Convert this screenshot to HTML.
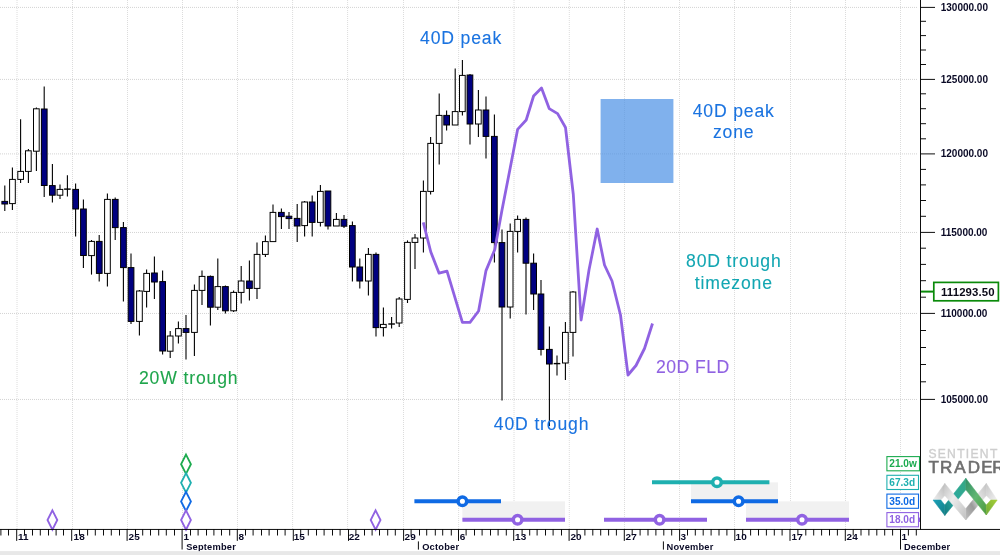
<!DOCTYPE html>
<html lang="en"><head><meta charset="utf-8"><title>Sentient Trader chart</title>
<style>
html,body{margin:0;padding:0;background:#fff;}
body{width:1000px;height:555px;overflow:hidden;position:relative;font-family:"Liberation Sans",sans-serif;}
svg{position:absolute;left:0;top:0;display:block;}
text{font-family:"Liberation Sans",sans-serif;}
.ax{font-weight:bold;font-size:10px;fill:#0a0a26;}
.mo{font-weight:bold;font-size:9.3px;fill:#0a0a26;letter-spacing:0.2px;}
.an{font-size:17.6px;letter-spacing:0.85px;stroke-width:0.1px;}
.cy{font-weight:bold;font-size:10.1px;}
</style></head><body>
<svg width="1000" height="555" viewBox="0 0 1000 555">
<defs>
<linearGradient id="gTealA" x1="0" y1="0" x2="1" y2="1"><stop offset="0" stop-color="#1aa0b8"/><stop offset="1" stop-color="#147f86"/></linearGradient>
<linearGradient id="gTealB" x1="0" y1="1" x2="1" y2="0"><stop offset="0" stop-color="#127a80"/><stop offset="0.45" stop-color="#2aa9a0"/><stop offset="1" stop-color="#36a880"/></linearGradient>
<linearGradient id="gGreen" x1="0" y1="0" x2="1" y2="1"><stop offset="0" stop-color="#2f8f68"/><stop offset="0.5" stop-color="#62b672"/><stop offset="1" stop-color="#4f9a3c"/></linearGradient>
<linearGradient id="gLime" x1="0" y1="1" x2="1" y2="0"><stop offset="0" stop-color="#6faa36"/><stop offset="1" stop-color="#a6cf38"/></linearGradient>
<linearGradient id="gGrayA" x1="0" y1="1" x2="1" y2="0"><stop offset="0" stop-color="#f0f0f0"/><stop offset="1" stop-color="#b9b9b9"/></linearGradient>
<linearGradient id="gGrayB" x1="0" y1="0" x2="1" y2="1"><stop offset="0" stop-color="#c4c4c4"/><stop offset="0.4" stop-color="#ececec"/><stop offset="1" stop-color="#c0c0c0"/></linearGradient>
<linearGradient id="gGrayC" x1="0" y1="1" x2="1" y2="0"><stop offset="0" stop-color="#bdbdbd"/><stop offset="0.35" stop-color="#9a9a9a"/><stop offset="0.6" stop-color="#e6e6e6"/><stop offset="1" stop-color="#c2c2c2"/></linearGradient>
<linearGradient id="gGrayD" x1="0" y1="0" x2="1" y2="1"><stop offset="0" stop-color="#c6c6c6"/><stop offset="1" stop-color="#f2f2f2"/></linearGradient>
</defs>
<rect x="0" y="0" width="1000" height="555" fill="#ffffff"/>
<g stroke="#dcdcdc" stroke-width="1" stroke-dasharray="1 1" fill="none">
<line x1="17.0" y1="0" x2="17.0" y2="529"/>
<line x1="72.5" y1="0" x2="72.5" y2="529"/>
<line x1="127.5" y1="0" x2="127.5" y2="529"/>
<line x1="182.5" y1="0" x2="182.5" y2="529"/>
<line x1="237.5" y1="0" x2="237.5" y2="529"/>
<line x1="292.6" y1="0" x2="292.6" y2="529"/>
<line x1="347.6" y1="0" x2="347.6" y2="529"/>
<line x1="403.5" y1="0" x2="403.5" y2="529"/>
<line x1="458.6" y1="0" x2="458.6" y2="529"/>
<line x1="514.0" y1="0" x2="514.0" y2="529"/>
<line x1="569.3" y1="0" x2="569.3" y2="529"/>
<line x1="624.5" y1="0" x2="624.5" y2="529"/>
<line x1="679.5" y1="0" x2="679.5" y2="529"/>
<line x1="734.5" y1="0" x2="734.5" y2="529"/>
<line x1="790.5" y1="0" x2="790.5" y2="529"/>
<line x1="845.5" y1="0" x2="845.5" y2="529"/>
<line x1="900.5" y1="0" x2="900.5" y2="529"/>
</g>
<g stroke="#d3d3d3" stroke-width="1" stroke-dasharray="1 1" fill="none">
<line x1="0" y1="7.40" x2="918" y2="7.40"/>
<line x1="0" y1="79.40" x2="918" y2="79.40"/>
<line x1="0" y1="153.90" x2="918" y2="153.90"/>
<line x1="0" y1="232.45" x2="918" y2="232.45"/>
<line x1="0" y1="313.45" x2="918" y2="313.45"/>
<line x1="0" y1="399.45" x2="918" y2="399.45"/>
</g>
<g fill="#f1f1f1">
<rect x="462.4" y="501.4" width="102.6" height="18.6"/>
<rect x="691" y="482.4" width="87" height="19"/>
<rect x="746" y="501.4" width="103" height="18.6"/>
</g>
<rect x="600.6" y="99" width="72.8" height="84" fill="#4a90e6" fill-opacity="0.7"/>
<g stroke="#000" stroke-width="1">
<line x1="4.8" y1="185.4" x2="4.8" y2="211.0" stroke-width="1.1"/>
<rect x="1.9" y="201.4" width="5.7" height="2.6" fill="#000080"/>
<line x1="12.4" y1="167.6" x2="12.4" y2="210.0" stroke-width="1.1"/>
<rect x="9.6" y="179.4" width="5.7" height="24.2" fill="#ffffff"/>
<line x1="20.6" y1="119.2" x2="20.6" y2="183.0" stroke-width="1.1"/>
<rect x="17.8" y="171.4" width="5.7" height="8.0" fill="#ffffff"/>
<line x1="28.4" y1="149.0" x2="28.4" y2="183.0" stroke-width="1.1"/>
<rect x="25.5" y="150.8" width="5.7" height="20.6" fill="#ffffff"/>
<line x1="36.4" y1="107.6" x2="36.4" y2="171.0" stroke-width="1.1"/>
<rect x="33.5" y="108.8" width="5.7" height="42.4" fill="#ffffff"/>
<line x1="44.2" y1="86.4" x2="44.2" y2="197.0" stroke-width="1.1"/>
<rect x="41.4" y="109.0" width="5.7" height="76.5" fill="#000080"/>
<line x1="52.4" y1="164.0" x2="52.4" y2="202.6" stroke-width="1.1"/>
<rect x="49.5" y="185.6" width="5.7" height="9.6" fill="#000080"/>
<line x1="60.0" y1="184.4" x2="60.0" y2="199.0" stroke-width="1.1"/>
<rect x="57.1" y="189.4" width="5.7" height="5.8" fill="#ffffff"/>
<line x1="67.4" y1="175.2" x2="67.4" y2="196.4" stroke-width="1.1"/>
<line x1="64.1" y1="189.1" x2="70.7" y2="189.1" stroke-width="1.4"/>
<line x1="75.6" y1="183.4" x2="75.6" y2="236.4" stroke-width="1.1"/>
<rect x="72.8" y="189.4" width="5.7" height="19.6" fill="#000080"/>
<line x1="83.4" y1="199.4" x2="83.4" y2="268.0" stroke-width="1.1"/>
<rect x="80.6" y="209.0" width="5.7" height="46.5" fill="#000080"/>
<line x1="91.5" y1="240.0" x2="91.5" y2="274.6" stroke-width="1.1"/>
<rect x="88.7" y="241.4" width="5.7" height="14.2" fill="#ffffff"/>
<line x1="99.2" y1="235.0" x2="99.2" y2="281.4" stroke-width="1.1"/>
<rect x="96.4" y="241.4" width="5.7" height="32.0" fill="#000080"/>
<line x1="107.4" y1="193.6" x2="107.4" y2="286.6" stroke-width="1.1"/>
<rect x="104.6" y="199.4" width="5.7" height="74.0" fill="#ffffff"/>
<line x1="115.2" y1="197.6" x2="115.2" y2="240.0" stroke-width="1.1"/>
<rect x="112.4" y="199.4" width="5.7" height="28.2" fill="#000080"/>
<line x1="123.4" y1="222.0" x2="123.4" y2="301.6" stroke-width="1.1"/>
<rect x="120.6" y="227.6" width="5.7" height="40.0" fill="#000080"/>
<line x1="131.0" y1="253.6" x2="131.0" y2="324.0" stroke-width="1.1"/>
<rect x="128.2" y="267.6" width="5.7" height="53.8" fill="#000080"/>
<line x1="139.4" y1="290.0" x2="139.4" y2="335.4" stroke-width="1.1"/>
<rect x="136.6" y="291.0" width="5.7" height="30.4" fill="#ffffff"/>
<line x1="146.6" y1="269.4" x2="146.6" y2="307.6" stroke-width="1.1"/>
<rect x="143.8" y="273.4" width="5.7" height="18.0" fill="#ffffff"/>
<line x1="154.4" y1="256.4" x2="154.4" y2="299.0" stroke-width="1.1"/>
<rect x="151.6" y="273.0" width="5.7" height="9.0" fill="#000080"/>
<line x1="162.6" y1="270.4" x2="162.6" y2="354.4" stroke-width="1.1"/>
<rect x="159.8" y="281.6" width="5.7" height="69.4" fill="#000080"/>
<line x1="170.2" y1="331.0" x2="170.2" y2="358.0" stroke-width="1.1"/>
<rect x="167.3" y="336.0" width="5.7" height="15.2" fill="#ffffff"/>
<line x1="178.4" y1="321.4" x2="178.4" y2="343.4" stroke-width="1.1"/>
<rect x="175.6" y="328.6" width="5.7" height="7.4" fill="#ffffff"/>
<line x1="186.0" y1="315.0" x2="186.0" y2="359.6" stroke-width="1.1"/>
<rect x="183.2" y="328.6" width="5.7" height="3.8" fill="#000080"/>
<line x1="194.4" y1="284.4" x2="194.4" y2="356.0" stroke-width="1.1"/>
<rect x="191.6" y="290.4" width="5.7" height="42.0" fill="#ffffff"/>
<line x1="202.0" y1="270.4" x2="202.0" y2="305.0" stroke-width="1.1"/>
<rect x="199.2" y="276.4" width="5.7" height="14.0" fill="#ffffff"/>
<line x1="210.4" y1="275.4" x2="210.4" y2="325.4" stroke-width="1.1"/>
<rect x="207.6" y="276.4" width="5.7" height="30.8" fill="#000080"/>
<line x1="217.8" y1="258.4" x2="217.8" y2="310.0" stroke-width="1.1"/>
<rect x="215.0" y="286.6" width="5.7" height="20.6" fill="#ffffff"/>
<line x1="225.4" y1="285.6" x2="225.4" y2="313.6" stroke-width="1.1"/>
<rect x="222.6" y="286.6" width="5.7" height="24.2" fill="#000080"/>
<line x1="233.6" y1="290.4" x2="233.6" y2="312.0" stroke-width="1.1"/>
<rect x="230.8" y="292.4" width="5.7" height="18.4" fill="#ffffff"/>
<line x1="241.2" y1="266.0" x2="241.2" y2="303.6" stroke-width="1.1"/>
<rect x="238.3" y="281.0" width="5.7" height="11.4" fill="#ffffff"/>
<line x1="249.4" y1="260.4" x2="249.4" y2="300.6" stroke-width="1.1"/>
<rect x="246.6" y="281.0" width="5.7" height="7.4" fill="#000080"/>
<line x1="257.0" y1="242.4" x2="257.0" y2="299.0" stroke-width="1.1"/>
<rect x="254.2" y="254.4" width="5.7" height="34.0" fill="#ffffff"/>
<line x1="265.4" y1="235.6" x2="265.4" y2="257.0" stroke-width="1.1"/>
<rect x="262.5" y="241.6" width="5.7" height="12.8" fill="#ffffff"/>
<line x1="273.0" y1="204.4" x2="273.0" y2="241.6" stroke-width="1.1"/>
<rect x="270.1" y="212.4" width="5.7" height="29.2" fill="#ffffff"/>
<line x1="281.4" y1="208.4" x2="281.4" y2="229.0" stroke-width="1.1"/>
<rect x="278.5" y="212.4" width="5.7" height="4.2" fill="#000080"/>
<line x1="289.0" y1="212.0" x2="289.0" y2="229.0" stroke-width="1.1"/>
<rect x="286.1" y="216.2" width="5.7" height="2.4" fill="#000080"/>
<line x1="297.2" y1="204.0" x2="297.2" y2="242.0" stroke-width="1.1"/>
<rect x="294.3" y="218.4" width="5.7" height="7.6" fill="#000080"/>
<line x1="304.6" y1="201.0" x2="304.6" y2="236.6" stroke-width="1.1"/>
<rect x="301.8" y="202.0" width="5.7" height="23.6" fill="#ffffff"/>
<line x1="312.2" y1="195.6" x2="312.2" y2="236.6" stroke-width="1.1"/>
<rect x="309.3" y="202.0" width="5.7" height="20.4" fill="#000080"/>
<line x1="320.4" y1="185.0" x2="320.4" y2="226.4" stroke-width="1.1"/>
<rect x="317.5" y="191.4" width="5.7" height="31.0" fill="#ffffff"/>
<line x1="328.0" y1="191.0" x2="328.0" y2="229.6" stroke-width="1.1"/>
<rect x="325.1" y="191.0" width="5.7" height="35.0" fill="#000080"/>
<line x1="336.4" y1="213.0" x2="336.4" y2="226.0" stroke-width="1.1"/>
<rect x="333.5" y="219.4" width="5.7" height="6.6" fill="#ffffff"/>
<line x1="344.0" y1="215.0" x2="344.0" y2="228.0" stroke-width="1.1"/>
<rect x="341.1" y="219.4" width="5.7" height="6.8" fill="#000080"/>
<line x1="352.4" y1="221.6" x2="352.4" y2="281.4" stroke-width="1.1"/>
<rect x="349.5" y="225.6" width="5.7" height="41.4" fill="#000080"/>
<line x1="359.8" y1="258.4" x2="359.8" y2="288.6" stroke-width="1.1"/>
<rect x="356.9" y="267.0" width="5.7" height="14.0" fill="#000080"/>
<line x1="368.4" y1="248.0" x2="368.4" y2="295.4" stroke-width="1.1"/>
<rect x="365.5" y="254.4" width="5.7" height="26.6" fill="#ffffff"/>
<line x1="376.0" y1="252.4" x2="376.0" y2="336.4" stroke-width="1.1"/>
<rect x="373.1" y="254.4" width="5.7" height="73.2" fill="#000080"/>
<line x1="383.4" y1="307.6" x2="383.4" y2="336.4" stroke-width="1.1"/>
<rect x="380.5" y="324.4" width="5.7" height="3.2" fill="#ffffff"/>
<line x1="391.6" y1="317.0" x2="391.6" y2="328.6" stroke-width="1.1"/>
<line x1="388.3" y1="324.0" x2="394.9" y2="324.0" stroke-width="1.4"/>
<line x1="399.2" y1="297.0" x2="399.2" y2="327.0" stroke-width="1.1"/>
<rect x="396.3" y="299.0" width="5.7" height="24.0" fill="#ffffff"/>
<line x1="407.5" y1="240.4" x2="407.5" y2="303.0" stroke-width="1.1"/>
<rect x="404.6" y="242.4" width="5.7" height="57.0" fill="#ffffff"/>
<line x1="415.0" y1="234.0" x2="415.0" y2="269.0" stroke-width="1.1"/>
<rect x="412.1" y="238.0" width="5.7" height="4.4" fill="#ffffff"/>
<line x1="423.4" y1="180.6" x2="423.4" y2="252.4" stroke-width="1.1"/>
<rect x="420.5" y="191.4" width="5.7" height="46.6" fill="#ffffff"/>
<line x1="430.6" y1="137.0" x2="430.6" y2="194.4" stroke-width="1.1"/>
<rect x="427.8" y="143.4" width="5.7" height="48.0" fill="#ffffff"/>
<line x1="439.2" y1="93.6" x2="439.2" y2="164.4" stroke-width="1.1"/>
<rect x="436.3" y="115.4" width="5.7" height="28.0" fill="#ffffff"/>
<line x1="446.6" y1="110.4" x2="446.6" y2="130.4" stroke-width="1.1"/>
<rect x="443.8" y="115.4" width="5.7" height="9.6" fill="#000080"/>
<line x1="455.2" y1="68.4" x2="455.2" y2="125.0" stroke-width="1.1"/>
<rect x="452.3" y="111.6" width="5.7" height="13.4" fill="#ffffff"/>
<line x1="462.4" y1="60.0" x2="462.4" y2="115.6" stroke-width="1.1"/>
<rect x="459.5" y="75.4" width="5.7" height="36.2" fill="#ffffff"/>
<line x1="470.0" y1="74.0" x2="470.0" y2="144.4" stroke-width="1.1"/>
<rect x="467.1" y="75.0" width="5.7" height="49.0" fill="#000080"/>
<line x1="478.4" y1="90.0" x2="478.4" y2="137.0" stroke-width="1.1"/>
<rect x="475.5" y="110.0" width="5.7" height="14.0" fill="#ffffff"/>
<line x1="486.0" y1="96.4" x2="486.0" y2="158.4" stroke-width="1.1"/>
<rect x="483.1" y="110.0" width="5.7" height="26.4" fill="#000080"/>
<line x1="494.4" y1="114.4" x2="494.4" y2="262.4" stroke-width="1.1"/>
<rect x="491.5" y="136.4" width="5.7" height="106.2" fill="#000080"/>
<line x1="502.0" y1="229.4" x2="502.0" y2="400.4" stroke-width="1.1"/>
<rect x="499.1" y="242.6" width="5.7" height="64.4" fill="#000080"/>
<line x1="510.2" y1="223.6" x2="510.2" y2="318.4" stroke-width="1.1"/>
<rect x="507.3" y="231.4" width="5.7" height="75.6" fill="#ffffff"/>
<line x1="517.6" y1="215.4" x2="517.6" y2="252.4" stroke-width="1.1"/>
<rect x="514.8" y="219.4" width="5.7" height="12.0" fill="#ffffff"/>
<line x1="526.0" y1="217.4" x2="526.0" y2="314.4" stroke-width="1.1"/>
<rect x="523.1" y="219.4" width="5.7" height="43.8" fill="#000080"/>
<line x1="533.6" y1="253.6" x2="533.6" y2="310.0" stroke-width="1.1"/>
<rect x="530.8" y="263.2" width="5.7" height="30.8" fill="#000080"/>
<line x1="541.0" y1="280.0" x2="541.0" y2="355.6" stroke-width="1.1"/>
<rect x="538.1" y="294.0" width="5.7" height="55.4" fill="#000080"/>
<line x1="549.4" y1="326.4" x2="549.4" y2="426.0" stroke-width="1.1"/>
<rect x="546.5" y="349.4" width="5.7" height="14.6" fill="#000080"/>
<line x1="557.0" y1="355.6" x2="557.0" y2="375.6" stroke-width="1.1"/>
<line x1="553.7" y1="363.6" x2="560.3" y2="363.6" stroke-width="1.4"/>
<line x1="565.4" y1="322.0" x2="565.4" y2="380.0" stroke-width="1.1"/>
<rect x="562.5" y="332.4" width="5.7" height="30.6" fill="#ffffff"/>
<line x1="573.0" y1="291.0" x2="573.0" y2="356.6" stroke-width="1.1"/>
<rect x="570.1" y="292.0" width="5.7" height="40.4" fill="#ffffff"/>
</g>
<polyline points="423.3,222.3 430.8,252.0 439.1,273.2 447.0,271.2 455.2,298.3 462.4,322.3 470.0,322.3 478.6,311.0 486.0,270.6 494.8,249.5 502.0,210.0 510.2,168.0 517.6,129.4 526.2,120.0 533.6,96.0 541.5,88.0 549.2,108.6 557.6,113.6 565.5,127.5 573.3,194.5 581.1,320.0 589.0,270.0 597.2,229.0 604.5,265.0 612.0,281.0 620.5,315.0 628.0,375.0 636.0,365.5 644.5,348.5 652.5,323.5" fill="none" stroke="#9062e2" stroke-width="2.8" stroke-linejoin="round" stroke-linecap="butt"/>
<g class="an">
<text x="461.1" y="43.6" text-anchor="middle" fill="#1a73e0" stroke="#1a73e0">40D peak</text>
<text x="733.7" y="116.6" text-anchor="middle" fill="#1a73e0" stroke="#1a73e0">40D peak</text>
<text x="733.7" y="137.6" text-anchor="middle" fill="#1a73e0" stroke="#1a73e0">zone</text>
<text x="733.8" y="266.5" text-anchor="middle" fill="#12a6b2" stroke="#12a6b2">80D trough</text>
<text x="733.8" y="289.2" text-anchor="middle" fill="#12a6b2" stroke="#12a6b2">timezone</text>
<text x="692.9" y="372.9" text-anchor="middle" fill="#9062e2" stroke="#9062e2" style="letter-spacing:0.45px">20D FLD</text>
<text x="541.6" y="429.9" text-anchor="middle" fill="#1a73e0" stroke="#1a73e0">40D trough</text>
<text x="188.7" y="384.2" text-anchor="middle" fill="#1fa54c" stroke="#1fa54c">20W trough</text>
</g>
<polygon points="52.4,510.4 57.3,520.0 52.4,529.6 47.5,520.0" fill="#fff" stroke="#9062e2" stroke-width="1.85" stroke-linejoin="miter"/>
<polygon points="186.0,454.6 190.9,464.2 186.0,473.8 181.1,464.2" fill="#fff" stroke="#1cab4f" stroke-width="1.85" stroke-linejoin="miter"/>
<polygon points="186.0,473.2 190.9,482.8 186.0,492.4 181.1,482.8" fill="#fff" stroke="#1fb0b0" stroke-width="1.85" stroke-linejoin="miter"/>
<polygon points="186.0,491.8 190.9,501.4 186.0,511.0 181.1,501.4" fill="#fff" stroke="#0f6ae4" stroke-width="1.85" stroke-linejoin="miter"/>
<polygon points="186.0,510.4 190.9,520.0 186.0,529.6 181.1,520.0" fill="#fff" stroke="#9062e2" stroke-width="1.85" stroke-linejoin="miter"/>
<polygon points="375.6,510.4 380.5,520.0 375.6,529.6 370.7,520.0" fill="#fff" stroke="#9062e2" stroke-width="1.85" stroke-linejoin="miter"/>
<line x1="414.4" y1="501.2" x2="501" y2="501.2" stroke="#0f6ae4" stroke-width="4"/>
<circle cx="462.4" cy="501.2" r="4.3" fill="#fff" stroke="#0f6ae4" stroke-width="3.5"/>
<line x1="462.4" y1="519.8" x2="565" y2="519.8" stroke="#9062e2" stroke-width="4"/>
<circle cx="517.6" cy="519.8" r="4.3" fill="#fff" stroke="#9062e2" stroke-width="3.5"/>
<line x1="604" y1="519.8" x2="707" y2="519.8" stroke="#9062e2" stroke-width="4"/>
<circle cx="659.6" cy="519.8" r="4.3" fill="#fff" stroke="#9062e2" stroke-width="3.5"/>
<line x1="652" y1="482.2" x2="769.4" y2="482.2" stroke="#1fb0b0" stroke-width="4"/>
<circle cx="717" cy="482.2" r="4.3" fill="#fff" stroke="#1fb0b0" stroke-width="3.5"/>
<line x1="691" y1="501.2" x2="778" y2="501.2" stroke="#0f6ae4" stroke-width="4"/>
<circle cx="738.6" cy="501.2" r="4.3" fill="#fff" stroke="#0f6ae4" stroke-width="3.5"/>
<line x1="746" y1="519.8" x2="849" y2="519.8" stroke="#9062e2" stroke-width="4"/>
<circle cx="802" cy="519.8" r="4.3" fill="#fff" stroke="#9062e2" stroke-width="3.5"/>
<rect x="921" y="0" width="79" height="529" fill="#fff"/>
<g stroke="#000" stroke-width="0.95" fill="none">
<line x1="920.5" y1="0" x2="920.5" y2="529.5"/>
<line x1="0" y1="529.45" x2="1000" y2="529.45"/>
<line x1="920.5" y1="399.4" x2="935.0" y2="399.4"/>
<line x1="920.5" y1="381.8" x2="926.0" y2="381.8"/>
<line x1="920.5" y1="364.5" x2="926.0" y2="364.5"/>
<line x1="920.5" y1="347.5" x2="926.0" y2="347.5"/>
<line x1="920.5" y1="330.5" x2="926.0" y2="330.5"/>
<line x1="920.5" y1="313.4" x2="935.0" y2="313.4"/>
<line x1="920.5" y1="297.2" x2="926.0" y2="297.2"/>
<line x1="920.5" y1="280.7" x2="926.0" y2="280.7"/>
<line x1="920.5" y1="264.4" x2="926.0" y2="264.4"/>
<line x1="920.5" y1="248.2" x2="926.0" y2="248.2"/>
<line x1="920.5" y1="232.4" x2="935.0" y2="232.4"/>
<line x1="920.5" y1="216.3" x2="926.0" y2="216.3"/>
<line x1="920.5" y1="200.5" x2="926.0" y2="200.5"/>
<line x1="920.5" y1="184.9" x2="926.0" y2="184.9"/>
<line x1="920.5" y1="169.4" x2="926.0" y2="169.4"/>
<line x1="920.5" y1="153.9" x2="935.0" y2="153.9"/>
<line x1="920.5" y1="138.8" x2="926.0" y2="138.8"/>
<line x1="920.5" y1="123.7" x2="926.0" y2="123.7"/>
<line x1="920.5" y1="108.7" x2="926.0" y2="108.7"/>
<line x1="920.5" y1="93.8" x2="926.0" y2="93.8"/>
<line x1="920.5" y1="79.4" x2="935.0" y2="79.4"/>
<line x1="920.5" y1="64.5" x2="926.0" y2="64.5"/>
<line x1="920.5" y1="50.0" x2="926.0" y2="50.0"/>
<line x1="920.5" y1="35.6" x2="926.0" y2="35.6"/>
<line x1="920.5" y1="21.3" x2="926.0" y2="21.3"/>
<line x1="920.5" y1="7.4" x2="935.0" y2="7.4"/>
<line x1="0.9" y1="529.3" x2="0.9" y2="535.5"/>
<line x1="8.5" y1="529.3" x2="8.5" y2="535.5"/>
<line x1="16.7" y1="529.3" x2="16.7" y2="540.9"/>
<line x1="24.5" y1="529.3" x2="24.5" y2="535.5"/>
<line x1="32.5" y1="529.3" x2="32.5" y2="535.5"/>
<line x1="40.3" y1="529.3" x2="40.3" y2="535.5"/>
<line x1="48.5" y1="529.3" x2="48.5" y2="535.5"/>
<line x1="56.1" y1="529.3" x2="56.1" y2="535.5"/>
<line x1="63.5" y1="529.3" x2="63.5" y2="535.5"/>
<line x1="71.7" y1="529.3" x2="71.7" y2="540.9"/>
<line x1="79.5" y1="529.3" x2="79.5" y2="535.5"/>
<line x1="87.6" y1="529.3" x2="87.6" y2="535.5"/>
<line x1="95.3" y1="529.3" x2="95.3" y2="535.5"/>
<line x1="103.5" y1="529.3" x2="103.5" y2="535.5"/>
<line x1="111.3" y1="529.3" x2="111.3" y2="535.5"/>
<line x1="119.5" y1="529.3" x2="119.5" y2="535.5"/>
<line x1="127.1" y1="529.3" x2="127.1" y2="540.9"/>
<line x1="135.5" y1="529.3" x2="135.5" y2="535.5"/>
<line x1="142.7" y1="529.3" x2="142.7" y2="535.5"/>
<line x1="150.5" y1="529.3" x2="150.5" y2="535.5"/>
<line x1="158.7" y1="529.3" x2="158.7" y2="535.5"/>
<line x1="166.3" y1="529.3" x2="166.3" y2="535.5"/>
<line x1="174.5" y1="529.3" x2="174.5" y2="535.5"/>
<line x1="182.1" y1="529.3" x2="182.1" y2="549.5"/>
<line x1="190.5" y1="529.3" x2="190.5" y2="535.5"/>
<line x1="198.1" y1="529.3" x2="198.1" y2="535.5"/>
<line x1="206.5" y1="529.3" x2="206.5" y2="535.5"/>
<line x1="213.9" y1="529.3" x2="213.9" y2="535.5"/>
<line x1="221.5" y1="529.3" x2="221.5" y2="535.5"/>
<line x1="229.7" y1="529.3" x2="229.7" y2="535.5"/>
<line x1="237.3" y1="529.3" x2="237.3" y2="540.9"/>
<line x1="245.5" y1="529.3" x2="245.5" y2="535.5"/>
<line x1="253.1" y1="529.3" x2="253.1" y2="535.5"/>
<line x1="261.5" y1="529.3" x2="261.5" y2="535.5"/>
<line x1="269.1" y1="529.3" x2="269.1" y2="535.5"/>
<line x1="277.5" y1="529.3" x2="277.5" y2="535.5"/>
<line x1="285.1" y1="529.3" x2="285.1" y2="535.5"/>
<line x1="293.3" y1="529.3" x2="293.3" y2="540.9"/>
<line x1="300.7" y1="529.3" x2="300.7" y2="535.5"/>
<line x1="308.3" y1="529.3" x2="308.3" y2="535.5"/>
<line x1="316.5" y1="529.3" x2="316.5" y2="535.5"/>
<line x1="324.1" y1="529.3" x2="324.1" y2="535.5"/>
<line x1="332.5" y1="529.3" x2="332.5" y2="535.5"/>
<line x1="340.1" y1="529.3" x2="340.1" y2="535.5"/>
<line x1="348.5" y1="529.3" x2="348.5" y2="540.9"/>
<line x1="355.9" y1="529.3" x2="355.9" y2="535.5"/>
<line x1="364.5" y1="529.3" x2="364.5" y2="535.5"/>
<line x1="372.1" y1="529.3" x2="372.1" y2="535.5"/>
<line x1="379.5" y1="529.3" x2="379.5" y2="535.5"/>
<line x1="387.7" y1="529.3" x2="387.7" y2="535.5"/>
<line x1="395.3" y1="529.3" x2="395.3" y2="535.5"/>
<line x1="403.6" y1="529.3" x2="403.6" y2="540.9"/>
<line x1="411.1" y1="529.3" x2="411.1" y2="535.5"/>
<line x1="419.5" y1="529.3" x2="419.5" y2="535.5"/>
<line x1="426.7" y1="529.3" x2="426.7" y2="535.5"/>
<line x1="435.3" y1="529.3" x2="435.3" y2="535.5"/>
<line x1="442.7" y1="529.3" x2="442.7" y2="535.5"/>
<line x1="451.3" y1="529.3" x2="451.3" y2="535.5"/>
<line x1="458.5" y1="529.3" x2="458.5" y2="540.9"/>
<line x1="466.1" y1="529.3" x2="466.1" y2="535.5"/>
<line x1="474.5" y1="529.3" x2="474.5" y2="535.5"/>
<line x1="482.1" y1="529.3" x2="482.1" y2="535.5"/>
<line x1="490.5" y1="529.3" x2="490.5" y2="535.5"/>
<line x1="498.1" y1="529.3" x2="498.1" y2="535.5"/>
<line x1="506.3" y1="529.3" x2="506.3" y2="535.5"/>
<line x1="513.7" y1="529.3" x2="513.7" y2="540.9"/>
<line x1="522.1" y1="529.3" x2="522.1" y2="535.5"/>
<line x1="529.7" y1="529.3" x2="529.7" y2="535.5"/>
<line x1="537.1" y1="529.3" x2="537.1" y2="535.5"/>
<line x1="545.5" y1="529.3" x2="545.5" y2="535.5"/>
<line x1="553.1" y1="529.3" x2="553.1" y2="535.5"/>
<line x1="561.5" y1="529.3" x2="561.5" y2="535.5"/>
<line x1="569.1" y1="529.3" x2="569.1" y2="540.9"/>
<line x1="577.0" y1="529.3" x2="577.0" y2="535.5"/>
<line x1="584.9" y1="529.3" x2="584.9" y2="535.5"/>
<line x1="592.8" y1="529.3" x2="592.8" y2="535.5"/>
<line x1="600.7" y1="529.3" x2="600.7" y2="535.5"/>
<line x1="608.6" y1="529.3" x2="608.6" y2="535.5"/>
<line x1="616.4" y1="529.3" x2="616.4" y2="535.5"/>
<line x1="624.3" y1="529.3" x2="624.3" y2="540.9"/>
<line x1="632.2" y1="529.3" x2="632.2" y2="535.5"/>
<line x1="640.1" y1="529.3" x2="640.1" y2="535.5"/>
<line x1="648.0" y1="529.3" x2="648.0" y2="535.5"/>
<line x1="655.9" y1="529.3" x2="655.9" y2="535.5"/>
<line x1="663.8" y1="529.3" x2="663.8" y2="535.5"/>
<line x1="671.7" y1="529.3" x2="671.7" y2="535.5"/>
<line x1="679.6" y1="529.3" x2="679.6" y2="540.9"/>
<line x1="687.5" y1="529.3" x2="687.5" y2="535.5"/>
<line x1="695.3" y1="529.3" x2="695.3" y2="535.5"/>
<line x1="703.2" y1="529.3" x2="703.2" y2="535.5"/>
<line x1="711.1" y1="529.3" x2="711.1" y2="535.5"/>
<line x1="719.0" y1="529.3" x2="719.0" y2="535.5"/>
<line x1="726.9" y1="529.3" x2="726.9" y2="535.5"/>
<line x1="734.8" y1="529.3" x2="734.8" y2="540.9"/>
<line x1="742.7" y1="529.3" x2="742.7" y2="535.5"/>
<line x1="750.6" y1="529.3" x2="750.6" y2="535.5"/>
<line x1="758.5" y1="529.3" x2="758.5" y2="535.5"/>
<line x1="766.4" y1="529.3" x2="766.4" y2="535.5"/>
<line x1="774.3" y1="529.3" x2="774.3" y2="535.5"/>
<line x1="782.1" y1="529.3" x2="782.1" y2="535.5"/>
<line x1="790.0" y1="529.3" x2="790.0" y2="540.9"/>
<line x1="797.9" y1="529.3" x2="797.9" y2="535.5"/>
<line x1="805.8" y1="529.3" x2="805.8" y2="535.5"/>
<line x1="813.7" y1="529.3" x2="813.7" y2="535.5"/>
<line x1="821.6" y1="529.3" x2="821.6" y2="535.5"/>
<line x1="829.5" y1="529.3" x2="829.5" y2="535.5"/>
<line x1="837.4" y1="529.3" x2="837.4" y2="535.5"/>
<line x1="845.3" y1="529.3" x2="845.3" y2="540.9"/>
<line x1="853.2" y1="529.3" x2="853.2" y2="535.5"/>
<line x1="861.0" y1="529.3" x2="861.0" y2="535.5"/>
<line x1="868.9" y1="529.3" x2="868.9" y2="535.5"/>
<line x1="876.8" y1="529.3" x2="876.8" y2="535.5"/>
<line x1="884.7" y1="529.3" x2="884.7" y2="535.5"/>
<line x1="892.6" y1="529.3" x2="892.6" y2="535.5"/>
<line x1="900.5" y1="529.3" x2="900.5" y2="549.5"/>
<line x1="908.4" y1="529.3" x2="908.4" y2="535.5"/>
<line x1="916.3" y1="529.3" x2="916.3" y2="535.5"/>
<line x1="418.4" y1="541.4" x2="418.4" y2="549.6"/>
<line x1="663.4" y1="541.4" x2="663.4" y2="549.6"/>
</g>
<g class="ax">
<text transform="translate(940.7,10.5)">130000.00</text>
<text transform="translate(940.7,82.5)">125000.00</text>
<text transform="translate(940.7,157.0)">120000.00</text>
<text transform="translate(940.7,235.5)">115000.00</text>
<text transform="translate(940.7,316.6)">110000.00</text>
<text transform="translate(940.7,402.6)">105000.00</text>
</g>
<g class="ax">
<text transform="translate(18.1,540.2) scale(1,0.95)">11</text>
<text transform="translate(73.6,540.2) scale(1,0.95)">18</text>
<text transform="translate(128.6,540.2) scale(1,0.95)">25</text>
<text transform="translate(183.6,540.2) scale(1,0.95)">1</text>
<text transform="translate(238.6,540.2) scale(1,0.95)">8</text>
<text transform="translate(293.7,540.2) scale(1,0.95)">15</text>
<text transform="translate(348.7,540.2) scale(1,0.95)">22</text>
<text transform="translate(404.6,540.2) scale(1,0.95)">29</text>
<text transform="translate(459.7,540.2) scale(1,0.95)">6</text>
<text transform="translate(515.1,540.2) scale(1,0.95)">13</text>
<text transform="translate(570.4,540.2) scale(1,0.95)">20</text>
<text transform="translate(625.6,540.2) scale(1,0.95)">27</text>
<text transform="translate(680.6,540.2) scale(1,0.95)">3</text>
<text transform="translate(735.6,540.2) scale(1,0.95)">10</text>
<text transform="translate(791.6,540.2) scale(1,0.95)">17</text>
<text transform="translate(846.6,540.2) scale(1,0.95)">24</text>
<text transform="translate(901.6,540.2) scale(1,0.95)">1</text>
</g>
<g class="mo">
<text transform="translate(186.2,550.2) scale(1,0.92)">September</text>
<text transform="translate(422.2,550.2) scale(1,0.92)">October</text>
<text transform="translate(666.5,550.2) scale(1,0.92)">November</text>
<text transform="translate(903.9,550.2) scale(1,0.92)">December</text>
</g>
<line x1="921" y1="291.6" x2="934" y2="291.6" stroke="#0a8a0a" stroke-width="2"/>
<rect x="933.8" y="282.4" width="64.6" height="18.4" fill="#fff" stroke="#0a8a0a" stroke-width="1.7"/>
<text x="941" y="296.2" font-weight="bold" font-size="11.4px" fill="#0a0a18" textLength="53.6" lengthAdjust="spacing">111293.50</text>
<rect x="886.9" y="456.6" width="32.6" height="14.2" fill="#fff" stroke="#1cab4f" stroke-width="1.1"/>
<text class="cy" x="889.3" y="467.3" fill="#1cab4f">21.0w</text>
<rect x="886.9" y="475.3" width="31.6" height="14.2" fill="#fff" stroke="#1fb0b0" stroke-width="1.1"/>
<text class="cy" x="889.3" y="486.0" fill="#1fb0b0">67.3d</text>
<rect x="886.9" y="494.1" width="31.6" height="14.2" fill="#fff" stroke="#0f6ae4" stroke-width="1.1"/>
<text class="cy" x="889.3" y="504.8" fill="#0f6ae4">35.0d</text>
<rect x="886.9" y="512.6" width="31.6" height="14.2" fill="#fff" stroke="#9062e2" stroke-width="1.1"/>
<text class="cy" x="889.3" y="523.3" fill="#9062e2">18.0d</text>
<rect x="918.6" y="517.6" width="1.4" height="4.4" fill="#9062e2"/>
<text x="928.4" y="458.4" font-size="12.1px" fill="#cecece" stroke="#cecece" stroke-width="0.35" letter-spacing="1.3px">SENTIENT</text>
<text x="928.4 940.1 954.2 967.7 981.3 992.3" y="473.4" font-size="17px" fill="#6f6f6f" stroke="#6f6f6f" stroke-width="0.65">TRADER</text>
<g>
<polygon points="944.8,515.5 944.8,505 965.8,478.3 965.8,489.8" fill="url(#gTealB)" stroke="url(#gTealB)" stroke-width="0.5" stroke-linejoin="round"/>
<polygon points="965.8,520 965.8,508.7 986.3,483.5 986.3,495.6" fill="url(#gGrayC)" stroke="url(#gGrayC)" stroke-width="0.5" stroke-linejoin="round"/>
<polygon points="933,500 944.8,483.5 944.8,495.6 940.8,500" fill="url(#gGrayA)" stroke="url(#gGrayA)" stroke-width="0.5" stroke-linejoin="round"/>
<polygon points="944.8,483.5 965.8,508.7 965.8,520 944.8,495.6" fill="url(#gGrayB)" stroke="url(#gGrayB)" stroke-width="0.5" stroke-linejoin="round"/>
<polygon points="986.3,483.5 997.2,500 990.8,500 986.3,495.6" fill="url(#gGrayD)" stroke="url(#gGrayD)" stroke-width="0.5" stroke-linejoin="round"/>
<polygon points="933,500 940.8,500 944.8,505 944.8,515.5" fill="url(#gTealA)" stroke="url(#gTealA)" stroke-width="0.5" stroke-linejoin="round"/>
<polygon points="965.8,478.3 986.3,505 986.3,515 965.8,489.8" fill="url(#gGreen)" stroke="url(#gGreen)" stroke-width="0.5" stroke-linejoin="round"/>
<polygon points="986.3,515 986.3,505 990.8,500 997.2,500" fill="url(#gLime)" stroke="url(#gLime)" stroke-width="0.5" stroke-linejoin="round"/>
</g>
<rect x="0" y="551.1" width="1000" height="3.9" fill="#e8e8e8"/>
</svg>
</body></html>
